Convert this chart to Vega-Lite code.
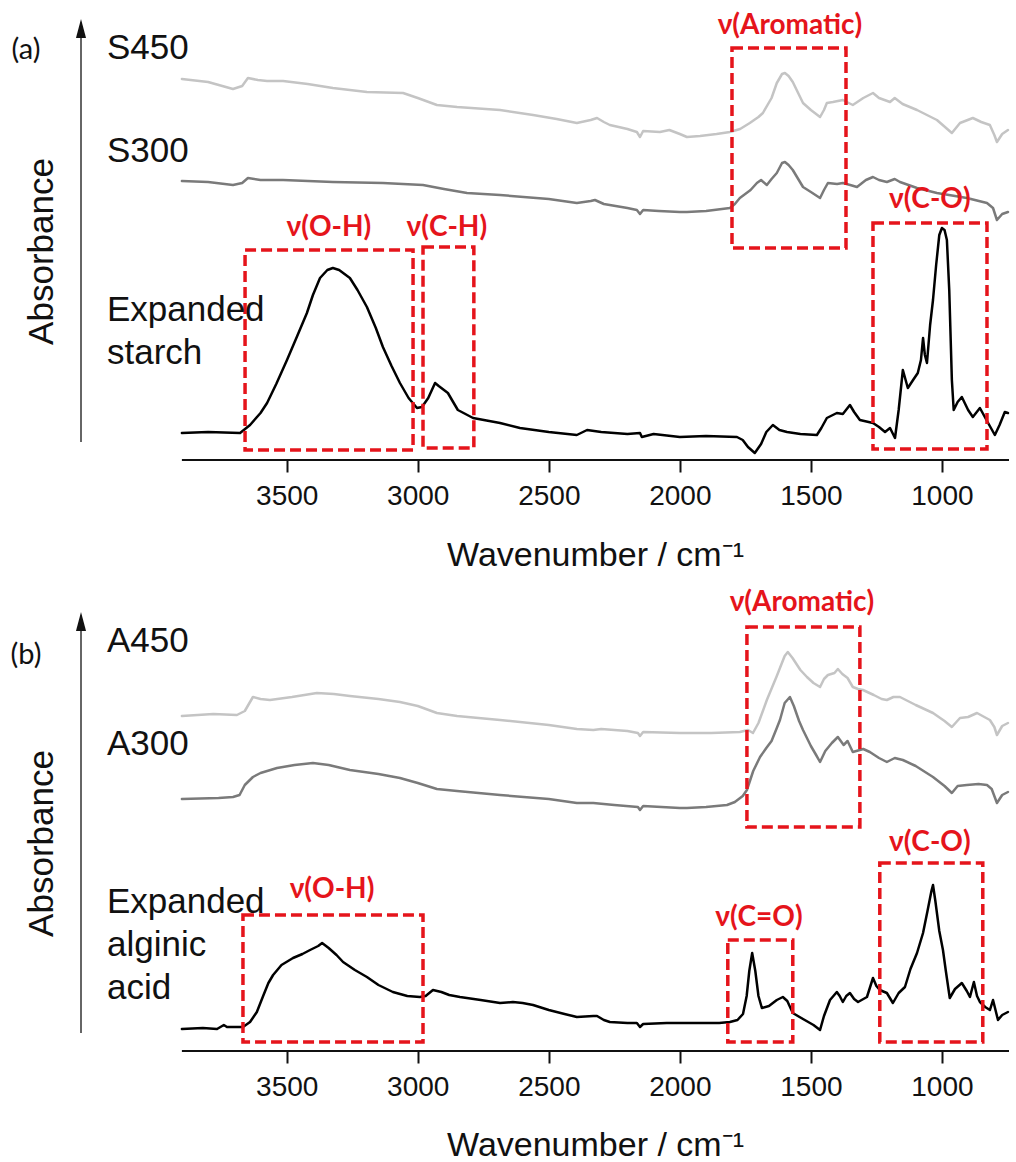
{
  "$schema": "https://vega.github.io/schema/vega-lite/v6.json",
  "width": 928,
  "height": 1031,
  "autosize": {"type": "none"},
  "padding": {"left": 81, "top": 20, "right": 7, "bottom": 111},
  "background": "white",
  "config": {"view": {"stroke": null}, "axis": {"grid": false}},
  "datasets": {
    "spectra": [
      {"panel":"a","series":"S450","wn":3900,"abs":381},{"panel":"a","series":"S450","wn":3800,"abs":378},{"panel":"a","series":"S450","wn":3705,"abs":371},{"panel":"a","series":"S450","wn":3670,"abs":374},{"panel":"a","series":"S450","wn":3648,"abs":382},{"panel":"a","series":"S450","wn":3610,"abs":380},{"panel":"a","series":"S450","wn":3575,"abs":379},{"panel":"a","series":"S450","wn":3514,"abs":379},{"panel":"a","series":"S450","wn":3420,"abs":376},{"panel":"a","series":"S450","wn":3324,"abs":372},{"panel":"a","series":"S450","wn":3194,"abs":368},{"panel":"a","series":"S450","wn":3056,"abs":367},{"panel":"a","series":"S450","wn":3000,"abs":362},{"panel":"a","series":"S450","wn":2927,"abs":355},{"panel":"a","series":"S450","wn":2850,"abs":353},{"panel":"a","series":"S450","wn":2686,"abs":350},{"panel":"a","series":"S450","wn":2560,"abs":345},{"panel":"a","series":"S450","wn":2470,"abs":341},{"panel":"a","series":"S450","wn":2393,"abs":337},{"panel":"a","series":"S450","wn":2340,"abs":340},{"panel":"a","series":"S450","wn":2316,"abs":342},{"panel":"a","series":"S450","wn":2290,"abs":338},{"panel":"a","series":"S450","wn":2267,"abs":335},{"panel":"a","series":"S450","wn":2200,"abs":331},{"panel":"a","series":"S450","wn":2164,"abs":328},{"panel":"a","series":"S450","wn":2152,"abs":323},{"panel":"a","series":"S450","wn":2140,"abs":329},{"panel":"a","series":"S450","wn":2076,"abs":328},{"panel":"a","series":"S450","wn":2040,"abs":330},{"panel":"a","series":"S450","wn":2000,"abs":326},{"panel":"a","series":"S450","wn":1973,"abs":323},{"panel":"a","series":"S450","wn":1923,"abs":324},{"panel":"a","series":"S450","wn":1860,"abs":326},{"panel":"a","series":"S450","wn":1809,"abs":328},{"panel":"a","series":"S450","wn":1770,"abs":331},{"panel":"a","series":"S450","wn":1733,"abs":337},{"panel":"a","series":"S450","wn":1700,"abs":343},{"panel":"a","series":"S450","wn":1683,"abs":347},{"panel":"a","series":"S450","wn":1650,"abs":362},{"panel":"a","series":"S450","wn":1630,"abs":377},{"panel":"a","series":"S450","wn":1610,"abs":386},{"panel":"a","series":"S450","wn":1599,"abs":387},{"panel":"a","series":"S450","wn":1585,"abs":384},{"panel":"a","series":"S450","wn":1569,"abs":378},{"panel":"a","series":"S450","wn":1530,"abs":357},{"panel":"a","series":"S450","wn":1500,"abs":350},{"panel":"a","series":"S450","wn":1465,"abs":343},{"panel":"a","series":"S450","wn":1450,"abs":350},{"panel":"a","series":"S450","wn":1439,"abs":357},{"panel":"a","series":"S450","wn":1416,"abs":358},{"panel":"a","series":"S450","wn":1378,"abs":360},{"panel":"a","series":"S450","wn":1340,"abs":355},{"panel":"a","series":"S450","wn":1300,"abs":362},{"panel":"a","series":"S450","wn":1263,"abs":367},{"panel":"a","series":"S450","wn":1240,"abs":362},{"panel":"a","series":"S450","wn":1198,"abs":358},{"panel":"a","series":"S450","wn":1180,"abs":362},{"panel":"a","series":"S450","wn":1150,"abs":356},{"panel":"a","series":"S450","wn":1095,"abs":350},{"panel":"a","series":"S450","wn":1019,"abs":340},{"panel":"a","series":"S450","wn":962,"abs":327},{"panel":"a","series":"S450","wn":931,"abs":337},{"panel":"a","series":"S450","wn":882,"abs":342},{"panel":"a","series":"S450","wn":850,"abs":338},{"panel":"a","series":"S450","wn":817,"abs":335},{"panel":"a","series":"S450","wn":800,"abs":325},{"panel":"a","series":"S450","wn":790,"abs":318},{"panel":"a","series":"S450","wn":770,"abs":326},{"panel":"a","series":"S450","wn":748,"abs":330},
      {"panel":"a","series":"S300","wn":3900,"abs":279},{"panel":"a","series":"S300","wn":3800,"abs":278},{"panel":"a","series":"S300","wn":3705,"abs":275},{"panel":"a","series":"S300","wn":3670,"abs":277},{"panel":"a","series":"S300","wn":3648,"abs":282},{"panel":"a","series":"S300","wn":3600,"abs":280},{"panel":"a","series":"S300","wn":3514,"abs":280},{"panel":"a","series":"S300","wn":3324,"abs":278},{"panel":"a","series":"S300","wn":3133,"abs":277},{"panel":"a","series":"S300","wn":2980,"abs":275},{"panel":"a","series":"S300","wn":2900,"abs":271},{"panel":"a","series":"S300","wn":2812,"abs":267},{"panel":"a","series":"S300","wn":2686,"abs":265},{"panel":"a","series":"S300","wn":2500,"abs":261},{"panel":"a","series":"S300","wn":2393,"abs":257},{"panel":"a","series":"S300","wn":2340,"abs":259},{"panel":"a","series":"S300","wn":2324,"abs":260},{"panel":"a","series":"S300","wn":2290,"abs":256},{"panel":"a","series":"S300","wn":2200,"abs":252},{"panel":"a","series":"S300","wn":2164,"abs":250},{"panel":"a","series":"S300","wn":2152,"abs":246},{"panel":"a","series":"S300","wn":2140,"abs":250},{"panel":"a","series":"S300","wn":2080,"abs":249},{"panel":"a","series":"S300","wn":2000,"abs":248},{"panel":"a","series":"S300","wn":1973,"abs":248},{"panel":"a","series":"S300","wn":1900,"abs":249},{"panel":"a","series":"S300","wn":1809,"abs":252},{"panel":"a","series":"S300","wn":1790,"abs":256},{"panel":"a","series":"S300","wn":1771,"abs":262},{"panel":"a","series":"S300","wn":1730,"abs":270},{"panel":"a","series":"S300","wn":1706,"abs":277},{"panel":"a","series":"S300","wn":1690,"abs":280},{"panel":"a","series":"S300","wn":1668,"abs":275},{"panel":"a","series":"S300","wn":1650,"abs":281},{"panel":"a","series":"S300","wn":1630,"abs":287},{"panel":"a","series":"S300","wn":1610,"abs":297},{"panel":"a","series":"S300","wn":1599,"abs":298},{"panel":"a","series":"S300","wn":1585,"abs":295},{"panel":"a","series":"S300","wn":1569,"abs":290},{"panel":"a","series":"S300","wn":1530,"abs":273},{"panel":"a","series":"S300","wn":1500,"abs":268},{"panel":"a","series":"S300","wn":1465,"abs":262},{"panel":"a","series":"S300","wn":1450,"abs":270},{"panel":"a","series":"S300","wn":1435,"abs":277},{"panel":"a","series":"S300","wn":1400,"abs":276},{"panel":"a","series":"S300","wn":1378,"abs":277},{"panel":"a","series":"S300","wn":1350,"abs":275},{"panel":"a","series":"S300","wn":1324,"abs":273},{"panel":"a","series":"S300","wn":1290,"abs":280},{"panel":"a","series":"S300","wn":1263,"abs":283},{"panel":"a","series":"S300","wn":1240,"abs":280},{"panel":"a","series":"S300","wn":1210,"abs":278},{"panel":"a","series":"S300","wn":1180,"abs":281},{"panel":"a","series":"S300","wn":1160,"abs":278},{"panel":"a","series":"S300","wn":1095,"abs":272},{"panel":"a","series":"S300","wn":1019,"abs":267},{"panel":"a","series":"S300","wn":950,"abs":264},{"panel":"a","series":"S300","wn":905,"abs":262},{"panel":"a","series":"S300","wn":828,"abs":257},{"panel":"a","series":"S300","wn":805,"abs":252},{"panel":"a","series":"S300","wn":790,"abs":240},{"panel":"a","series":"S300","wn":770,"abs":246},{"panel":"a","series":"S300","wn":748,"abs":248},
      {"panel":"a","series":"Expanded starch","wn":3900,"abs":27},{"panel":"a","series":"Expanded starch","wn":3800,"abs":28},{"panel":"a","series":"Expanded starch","wn":3678,"abs":27},{"panel":"a","series":"Expanded starch","wn":3640,"abs":35},{"panel":"a","series":"Expanded starch","wn":3600,"abs":47},{"panel":"a","series":"Expanded starch","wn":3575,"abs":57},{"panel":"a","series":"Expanded starch","wn":3540,"abs":76},{"panel":"a","series":"Expanded starch","wn":3499,"abs":100},{"panel":"a","series":"Expanded starch","wn":3460,"abs":124},{"panel":"a","series":"Expanded starch","wn":3423,"abs":147},{"panel":"a","series":"Expanded starch","wn":3400,"abs":165},{"panel":"a","series":"Expanded starch","wn":3373,"abs":182},{"panel":"a","series":"Expanded starch","wn":3345,"abs":190},{"panel":"a","series":"Expanded starch","wn":3324,"abs":192},{"panel":"a","series":"Expanded starch","wn":3300,"abs":190},{"panel":"a","series":"Expanded starch","wn":3259,"abs":182},{"panel":"a","series":"Expanded starch","wn":3230,"abs":170},{"panel":"a","series":"Expanded starch","wn":3194,"abs":153},{"panel":"a","series":"Expanded starch","wn":3160,"abs":132},{"panel":"a","series":"Expanded starch","wn":3133,"abs":113},{"panel":"a","series":"Expanded starch","wn":3100,"abs":94},{"panel":"a","series":"Expanded starch","wn":3068,"abs":77},{"panel":"a","series":"Expanded starch","wn":3035,"abs":62},{"panel":"a","series":"Expanded starch","wn":3003,"abs":52},{"panel":"a","series":"Expanded starch","wn":2984,"abs":53},{"panel":"a","series":"Expanded starch","wn":2960,"abs":62},{"panel":"a","series":"Expanded starch","wn":2934,"abs":77},{"panel":"a","series":"Expanded starch","wn":2920,"abs":74},{"panel":"a","series":"Expanded starch","wn":2900,"abs":70},{"panel":"a","series":"Expanded starch","wn":2885,"abs":67},{"panel":"a","series":"Expanded starch","wn":2865,"abs":58},{"panel":"a","series":"Expanded starch","wn":2847,"abs":50},{"panel":"a","series":"Expanded starch","wn":2789,"abs":42},{"panel":"a","series":"Expanded starch","wn":2686,"abs":37},{"panel":"a","series":"Expanded starch","wn":2610,"abs":32},{"panel":"a","series":"Expanded starch","wn":2500,"abs":28},{"panel":"a","series":"Expanded starch","wn":2393,"abs":25},{"panel":"a","series":"Expanded starch","wn":2354,"abs":30},{"panel":"a","series":"Expanded starch","wn":2300,"abs":28},{"panel":"a","series":"Expanded starch","wn":2200,"abs":26},{"panel":"a","series":"Expanded starch","wn":2152,"abs":27},{"panel":"a","series":"Expanded starch","wn":2145,"abs":23},{"panel":"a","series":"Expanded starch","wn":2100,"abs":26},{"panel":"a","series":"Expanded starch","wn":2000,"abs":23},{"panel":"a","series":"Expanded starch","wn":1900,"abs":24},{"panel":"a","series":"Expanded starch","wn":1782,"abs":23},{"panel":"a","series":"Expanded starch","wn":1760,"abs":20},{"panel":"a","series":"Expanded starch","wn":1740,"abs":13},{"panel":"a","series":"Expanded starch","wn":1714,"abs":7},{"panel":"a","series":"Expanded starch","wn":1690,"abs":16},{"panel":"a","series":"Expanded starch","wn":1670,"abs":28},{"panel":"a","series":"Expanded starch","wn":1645,"abs":35},{"panel":"a","series":"Expanded starch","wn":1620,"abs":30},{"panel":"a","series":"Expanded starch","wn":1591,"abs":28},{"panel":"a","series":"Expanded starch","wn":1540,"abs":26},{"panel":"a","series":"Expanded starch","wn":1477,"abs":25},{"panel":"a","series":"Expanded starch","wn":1460,"abs":32},{"panel":"a","series":"Expanded starch","wn":1439,"abs":42},{"panel":"a","series":"Expanded starch","wn":1401,"abs":47},{"panel":"a","series":"Expanded starch","wn":1378,"abs":46},{"panel":"a","series":"Expanded starch","wn":1360,"abs":52},{"panel":"a","series":"Expanded starch","wn":1351,"abs":55},{"panel":"a","series":"Expanded starch","wn":1335,"abs":48},{"panel":"a","series":"Expanded starch","wn":1313,"abs":40},{"panel":"a","series":"Expanded starch","wn":1263,"abs":37},{"panel":"a","series":"Expanded starch","wn":1240,"abs":33},{"panel":"a","series":"Expanded starch","wn":1217,"abs":28},{"panel":"a","series":"Expanded starch","wn":1198,"abs":32},{"panel":"a","series":"Expanded starch","wn":1179,"abs":22},{"panel":"a","series":"Expanded starch","wn":1165,"abs":50},{"panel":"a","series":"Expanded starch","wn":1149,"abs":90},{"panel":"a","series":"Expanded starch","wn":1130,"abs":72},{"panel":"a","series":"Expanded starch","wn":1110,"abs":80},{"panel":"a","series":"Expanded starch","wn":1092,"abs":87},{"panel":"a","series":"Expanded starch","wn":1080,"abs":100},{"panel":"a","series":"Expanded starch","wn":1072,"abs":122},{"panel":"a","series":"Expanded starch","wn":1065,"abs":105},{"panel":"a","series":"Expanded starch","wn":1057,"abs":97},{"panel":"a","series":"Expanded starch","wn":1045,"abs":135},{"panel":"a","series":"Expanded starch","wn":1034,"abs":160},{"panel":"a","series":"Expanded starch","wn":1022,"abs":195},{"panel":"a","series":"Expanded starch","wn":1010,"abs":225},{"panel":"a","series":"Expanded starch","wn":1000,"abs":232},{"panel":"a","series":"Expanded starch","wn":990,"abs":230},{"panel":"a","series":"Expanded starch","wn":981,"abs":220},{"panel":"a","series":"Expanded starch","wn":972,"abs":170},{"panel":"a","series":"Expanded starch","wn":962,"abs":80},{"panel":"a","series":"Expanded starch","wn":955,"abs":50},{"panel":"a","series":"Expanded starch","wn":940,"abs":58},{"panel":"a","series":"Expanded starch","wn":924,"abs":63},{"panel":"a","series":"Expanded starch","wn":900,"abs":50},{"panel":"a","series":"Expanded starch","wn":882,"abs":43},{"panel":"a","series":"Expanded starch","wn":855,"abs":52},{"panel":"a","series":"Expanded starch","wn":830,"abs":40},{"panel":"a","series":"Expanded starch","wn":798,"abs":25},{"panel":"a","series":"Expanded starch","wn":780,"abs":35},{"panel":"a","series":"Expanded starch","wn":760,"abs":48},{"panel":"a","series":"Expanded starch","wn":748,"abs":47},
      {"panel":"b","series":"A450","wn":3900,"abs":335},{"panel":"b","series":"A450","wn":3780,"abs":337},{"panel":"b","series":"A450","wn":3690,"abs":336},{"panel":"b","series":"A450","wn":3660,"abs":340},{"panel":"b","series":"A450","wn":3629,"abs":354},{"panel":"b","series":"A450","wn":3600,"abs":352},{"panel":"b","series":"A450","wn":3564,"abs":351},{"panel":"b","series":"A450","wn":3480,"abs":354},{"panel":"b","series":"A450","wn":3385,"abs":358},{"panel":"b","series":"A450","wn":3320,"abs":357},{"panel":"b","series":"A450","wn":3259,"abs":355},{"panel":"b","series":"A450","wn":3150,"abs":352},{"panel":"b","series":"A450","wn":3068,"abs":349},{"panel":"b","series":"A450","wn":3000,"abs":345},{"panel":"b","series":"A450","wn":2927,"abs":338},{"panel":"b","series":"A450","wn":2850,"abs":335},{"panel":"b","series":"A450","wn":2686,"abs":331},{"panel":"b","series":"A450","wn":2500,"abs":326},{"panel":"b","series":"A450","wn":2393,"abs":322},{"panel":"b","series":"A450","wn":2330,"abs":321},{"panel":"b","series":"A450","wn":2300,"abs":322},{"panel":"b","series":"A450","wn":2200,"abs":320},{"panel":"b","series":"A450","wn":2160,"abs":318},{"panel":"b","series":"A450","wn":2152,"abs":315},{"panel":"b","series":"A450","wn":2140,"abs":319},{"panel":"b","series":"A450","wn":2000,"abs":318},{"panel":"b","series":"A450","wn":1973,"abs":318},{"panel":"b","series":"A450","wn":1880,"abs":318},{"panel":"b","series":"A450","wn":1771,"abs":319},{"panel":"b","series":"A450","wn":1740,"abs":321},{"panel":"b","series":"A450","wn":1721,"abs":318},{"panel":"b","series":"A450","wn":1700,"abs":328},{"panel":"b","series":"A450","wn":1668,"abs":351},{"panel":"b","series":"A450","wn":1630,"abs":375},{"panel":"b","series":"A450","wn":1600,"abs":395},{"panel":"b","series":"A450","wn":1588,"abs":399},{"panel":"b","series":"A450","wn":1570,"abs":393},{"panel":"b","series":"A450","wn":1540,"abs":381},{"panel":"b","series":"A450","wn":1515,"abs":374},{"panel":"b","series":"A450","wn":1490,"abs":368},{"panel":"b","series":"A450","wn":1465,"abs":364},{"panel":"b","series":"A450","wn":1450,"abs":372},{"panel":"b","series":"A450","wn":1435,"abs":376},{"panel":"b","series":"A450","wn":1410,"abs":378},{"panel":"b","series":"A450","wn":1397,"abs":382},{"panel":"b","series":"A450","wn":1380,"abs":377},{"panel":"b","series":"A450","wn":1360,"abs":373},{"panel":"b","series":"A450","wn":1340,"abs":364},{"panel":"b","series":"A450","wn":1320,"abs":362},{"panel":"b","series":"A450","wn":1301,"abs":361},{"panel":"b","series":"A450","wn":1260,"abs":356},{"panel":"b","series":"A450","wn":1230,"abs":352},{"panel":"b","series":"A450","wn":1210,"abs":351},{"panel":"b","series":"A450","wn":1185,"abs":354},{"panel":"b","series":"A450","wn":1160,"abs":354},{"panel":"b","series":"A450","wn":1100,"abs":346},{"panel":"b","series":"A450","wn":1034,"abs":338},{"panel":"b","series":"A450","wn":990,"abs":330},{"panel":"b","series":"A450","wn":962,"abs":324},{"panel":"b","series":"A450","wn":931,"abs":333},{"panel":"b","series":"A450","wn":900,"abs":334},{"panel":"b","series":"A450","wn":866,"abs":338},{"panel":"b","series":"A450","wn":817,"abs":331},{"panel":"b","series":"A450","wn":800,"abs":324},{"panel":"b","series":"A450","wn":790,"abs":316},{"panel":"b","series":"A450","wn":770,"abs":325},{"panel":"b","series":"A450","wn":748,"abs":328},
      {"panel":"b","series":"A300","wn":3900,"abs":252},{"panel":"b","series":"A300","wn":3760,"abs":253},{"panel":"b","series":"A300","wn":3705,"abs":254},{"panel":"b","series":"A300","wn":3680,"abs":256},{"panel":"b","series":"A300","wn":3660,"abs":266},{"panel":"b","series":"A300","wn":3629,"abs":274},{"panel":"b","series":"A300","wn":3600,"abs":278},{"panel":"b","series":"A300","wn":3537,"abs":283},{"panel":"b","series":"A300","wn":3470,"abs":286},{"panel":"b","series":"A300","wn":3400,"abs":288},{"panel":"b","series":"A300","wn":3340,"abs":286},{"panel":"b","series":"A300","wn":3259,"abs":281},{"panel":"b","series":"A300","wn":3150,"abs":277},{"panel":"b","series":"A300","wn":3068,"abs":273},{"panel":"b","series":"A300","wn":3000,"abs":268},{"panel":"b","series":"A300","wn":2927,"abs":262},{"panel":"b","series":"A300","wn":2850,"abs":260},{"panel":"b","series":"A300","wn":2686,"abs":256},{"panel":"b","series":"A300","wn":2500,"abs":252},{"panel":"b","series":"A300","wn":2393,"abs":248},{"panel":"b","series":"A300","wn":2330,"abs":248},{"panel":"b","series":"A300","wn":2250,"abs":246},{"panel":"b","series":"A300","wn":2160,"abs":244},{"panel":"b","series":"A300","wn":2152,"abs":241},{"panel":"b","series":"A300","wn":2140,"abs":245},{"panel":"b","series":"A300","wn":2000,"abs":243},{"panel":"b","series":"A300","wn":1973,"abs":243},{"panel":"b","series":"A300","wn":1900,"abs":244},{"panel":"b","series":"A300","wn":1820,"abs":246},{"panel":"b","series":"A300","wn":1790,"abs":249},{"panel":"b","series":"A300","wn":1760,"abs":255},{"panel":"b","series":"A300","wn":1744,"abs":261},{"panel":"b","series":"A300","wn":1720,"abs":280},{"panel":"b","series":"A300","wn":1694,"abs":294},{"panel":"b","series":"A300","wn":1670,"abs":303},{"panel":"b","series":"A300","wn":1650,"abs":310},{"panel":"b","series":"A300","wn":1630,"abs":323},{"panel":"b","series":"A300","wn":1618,"abs":331},{"panel":"b","series":"A300","wn":1600,"abs":348},{"panel":"b","series":"A300","wn":1580,"abs":354},{"panel":"b","series":"A300","wn":1565,"abs":345},{"panel":"b","series":"A300","wn":1545,"abs":330},{"panel":"b","series":"A300","wn":1530,"abs":321},{"panel":"b","series":"A300","wn":1500,"abs":305},{"panel":"b","series":"A300","wn":1480,"abs":296},{"panel":"b","series":"A300","wn":1465,"abs":289},{"panel":"b","series":"A300","wn":1445,"abs":300},{"panel":"b","series":"A300","wn":1420,"abs":308},{"panel":"b","series":"A300","wn":1397,"abs":314},{"panel":"b","series":"A300","wn":1375,"abs":306},{"panel":"b","series":"A300","wn":1360,"abs":310},{"panel":"b","series":"A300","wn":1340,"abs":299},{"panel":"b","series":"A300","wn":1300,"abs":302},{"panel":"b","series":"A300","wn":1275,"abs":299},{"panel":"b","series":"A300","wn":1240,"abs":293},{"panel":"b","series":"A300","wn":1210,"abs":289},{"panel":"b","series":"A300","wn":1180,"abs":293},{"panel":"b","series":"A300","wn":1149,"abs":291},{"panel":"b","series":"A300","wn":1100,"abs":285},{"panel":"b","series":"A300","wn":1034,"abs":274},{"panel":"b","series":"A300","wn":990,"abs":265},{"panel":"b","series":"A300","wn":962,"abs":258},{"panel":"b","series":"A300","wn":940,"abs":265},{"panel":"b","series":"A300","wn":905,"abs":266},{"panel":"b","series":"A300","wn":860,"abs":267},{"panel":"b","series":"A300","wn":828,"abs":266},{"panel":"b","series":"A300","wn":810,"abs":262},{"panel":"b","series":"A300","wn":790,"abs":248},{"panel":"b","series":"A300","wn":770,"abs":256},{"panel":"b","series":"A300","wn":748,"abs":259},
      {"panel":"b","series":"Expanded alginic acid","wn":3900,"abs":22},{"panel":"b","series":"Expanded alginic acid","wn":3820,"abs":23},{"panel":"b","series":"Expanded alginic acid","wn":3766,"abs":22},{"panel":"b","series":"Expanded alginic acid","wn":3740,"abs":26},{"panel":"b","series":"Expanded alginic acid","wn":3728,"abs":24},{"panel":"b","series":"Expanded alginic acid","wn":3667,"abs":24},{"panel":"b","series":"Expanded alginic acid","wn":3640,"abs":29},{"panel":"b","series":"Expanded alginic acid","wn":3614,"abs":39},{"panel":"b","series":"Expanded alginic acid","wn":3590,"abs":55},{"panel":"b","series":"Expanded alginic acid","wn":3570,"abs":68},{"panel":"b","series":"Expanded alginic acid","wn":3552,"abs":76},{"panel":"b","series":"Expanded alginic acid","wn":3520,"abs":86},{"panel":"b","series":"Expanded alginic acid","wn":3476,"abs":93},{"panel":"b","series":"Expanded alginic acid","wn":3440,"abs":97},{"panel":"b","series":"Expanded alginic acid","wn":3411,"abs":101},{"panel":"b","series":"Expanded alginic acid","wn":3380,"abs":105},{"panel":"b","series":"Expanded alginic acid","wn":3365,"abs":108},{"panel":"b","series":"Expanded alginic acid","wn":3340,"abs":103},{"panel":"b","series":"Expanded alginic acid","wn":3310,"abs":96},{"panel":"b","series":"Expanded alginic acid","wn":3285,"abs":89},{"panel":"b","series":"Expanded alginic acid","wn":3240,"abs":81},{"panel":"b","series":"Expanded alginic acid","wn":3194,"abs":74},{"panel":"b","series":"Expanded alginic acid","wn":3150,"abs":66},{"panel":"b","series":"Expanded alginic acid","wn":3095,"abs":59},{"panel":"b","series":"Expanded alginic acid","wn":3040,"abs":55},{"panel":"b","series":"Expanded alginic acid","wn":2992,"abs":54},{"panel":"b","series":"Expanded alginic acid","wn":2970,"abs":55},{"panel":"b","series":"Expanded alginic acid","wn":2942,"abs":61},{"panel":"b","series":"Expanded alginic acid","wn":2910,"abs":59},{"panel":"b","series":"Expanded alginic acid","wn":2880,"abs":56},{"panel":"b","series":"Expanded alginic acid","wn":2839,"abs":54},{"panel":"b","series":"Expanded alginic acid","wn":2760,"abs":51},{"panel":"b","series":"Expanded alginic acid","wn":2686,"abs":48},{"panel":"b","series":"Expanded alginic acid","wn":2637,"abs":49},{"panel":"b","series":"Expanded alginic acid","wn":2600,"abs":48},{"panel":"b","series":"Expanded alginic acid","wn":2560,"abs":46},{"panel":"b","series":"Expanded alginic acid","wn":2500,"abs":41},{"panel":"b","series":"Expanded alginic acid","wn":2440,"abs":37},{"panel":"b","series":"Expanded alginic acid","wn":2393,"abs":34},{"panel":"b","series":"Expanded alginic acid","wn":2330,"abs":35},{"panel":"b","series":"Expanded alginic acid","wn":2316,"abs":35},{"panel":"b","series":"Expanded alginic acid","wn":2290,"abs":31},{"panel":"b","series":"Expanded alginic acid","wn":2267,"abs":29},{"panel":"b","series":"Expanded alginic acid","wn":2200,"abs":28},{"panel":"b","series":"Expanded alginic acid","wn":2164,"abs":28},{"panel":"b","series":"Expanded alginic acid","wn":2152,"abs":24},{"panel":"b","series":"Expanded alginic acid","wn":2140,"abs":27},{"panel":"b","series":"Expanded alginic acid","wn":2050,"abs":28},{"panel":"b","series":"Expanded alginic acid","wn":1973,"abs":28},{"panel":"b","series":"Expanded alginic acid","wn":1850,"abs":28},{"panel":"b","series":"Expanded alginic acid","wn":1809,"abs":29},{"panel":"b","series":"Expanded alginic acid","wn":1780,"abs":31},{"panel":"b","series":"Expanded alginic acid","wn":1759,"abs":37},{"panel":"b","series":"Expanded alginic acid","wn":1745,"abs":55},{"panel":"b","series":"Expanded alginic acid","wn":1735,"abs":80},{"panel":"b","series":"Expanded alginic acid","wn":1724,"abs":98},{"panel":"b","series":"Expanded alginic acid","wn":1712,"abs":80},{"panel":"b","series":"Expanded alginic acid","wn":1700,"abs":55},{"panel":"b","series":"Expanded alginic acid","wn":1687,"abs":43},{"panel":"b","series":"Expanded alginic acid","wn":1660,"abs":45},{"panel":"b","series":"Expanded alginic acid","wn":1630,"abs":51},{"panel":"b","series":"Expanded alginic acid","wn":1607,"abs":54},{"panel":"b","series":"Expanded alginic acid","wn":1590,"abs":50},{"panel":"b","series":"Expanded alginic acid","wn":1569,"abs":38},{"panel":"b","series":"Expanded alginic acid","wn":1530,"abs":32},{"panel":"b","series":"Expanded alginic acid","wn":1490,"abs":26},{"panel":"b","series":"Expanded alginic acid","wn":1465,"abs":21},{"panel":"b","series":"Expanded alginic acid","wn":1450,"abs":35},{"panel":"b","series":"Expanded alginic acid","wn":1427,"abs":51},{"panel":"b","series":"Expanded alginic acid","wn":1401,"abs":59},{"panel":"b","series":"Expanded alginic acid","wn":1390,"abs":55},{"panel":"b","series":"Expanded alginic acid","wn":1378,"abs":49},{"panel":"b","series":"Expanded alginic acid","wn":1365,"abs":55},{"panel":"b","series":"Expanded alginic acid","wn":1351,"abs":58},{"panel":"b","series":"Expanded alginic acid","wn":1335,"abs":52},{"panel":"b","series":"Expanded alginic acid","wn":1320,"abs":49},{"panel":"b","series":"Expanded alginic acid","wn":1286,"abs":54},{"panel":"b","series":"Expanded alginic acid","wn":1263,"abs":73},{"panel":"b","series":"Expanded alginic acid","wn":1250,"abs":65},{"panel":"b","series":"Expanded alginic acid","wn":1237,"abs":61},{"panel":"b","series":"Expanded alginic acid","wn":1210,"abs":58},{"panel":"b","series":"Expanded alginic acid","wn":1187,"abs":48},{"panel":"b","series":"Expanded alginic acid","wn":1165,"abs":58},{"panel":"b","series":"Expanded alginic acid","wn":1141,"abs":64},{"panel":"b","series":"Expanded alginic acid","wn":1120,"abs":82},{"panel":"b","series":"Expanded alginic acid","wn":1095,"abs":98},{"panel":"b","series":"Expanded alginic acid","wn":1072,"abs":118},{"panel":"b","series":"Expanded alginic acid","wn":1055,"abs":140},{"panel":"b","series":"Expanded alginic acid","wn":1040,"abs":160},{"panel":"b","series":"Expanded alginic acid","wn":1034,"abs":166},{"panel":"b","series":"Expanded alginic acid","wn":1025,"abs":150},{"panel":"b","series":"Expanded alginic acid","wn":1010,"abs":120},{"panel":"b","series":"Expanded alginic acid","wn":996,"abs":101},{"panel":"b","series":"Expanded alginic acid","wn":985,"abs":80},{"panel":"b","series":"Expanded alginic acid","wn":970,"abs":53},{"panel":"b","series":"Expanded alginic acid","wn":950,"abs":62},{"panel":"b","series":"Expanded alginic acid","wn":924,"abs":68},{"panel":"b","series":"Expanded alginic acid","wn":905,"abs":60},{"panel":"b","series":"Expanded alginic acid","wn":893,"abs":54},{"panel":"b","series":"Expanded alginic acid","wn":878,"abs":69},{"panel":"b","series":"Expanded alginic acid","wn":866,"abs":55},{"panel":"b","series":"Expanded alginic acid","wn":855,"abs":49},{"panel":"b","series":"Expanded alginic acid","wn":835,"abs":44},{"panel":"b","series":"Expanded alginic acid","wn":817,"abs":41},{"panel":"b","series":"Expanded alginic acid","wn":805,"abs":51},{"panel":"b","series":"Expanded alginic acid","wn":786,"abs":31},{"panel":"b","series":"Expanded alginic acid","wn":770,"abs":36},{"panel":"b","series":"Expanded alginic acid","wn":748,"abs":39}
    ],
    "boxes": [
      {"panel":"a","label":"ν(O-H)","from":3659,"to":3018,"low":10,"high":210,"labelWn":3339,"labelAbs":232},
      {"panel":"a","label":"ν(C-H)","from":2980,"to":2786,"low":12,"high":213,"labelWn":2889,"labelAbs":232},
      {"panel":"a","label":"ν(Aromatic)","from":1801,"to":1366,"low":212,"high":412,"labelWn":1580,"labelAbs":434},
      {"panel":"a","label":"ν(C-O)","from":1263,"to":828,"low":11,"high":237,"labelWn":1046,"labelAbs":260},
      {"panel":"b","label":"ν(O-H)","from":3667,"to":2980,"low":9,"high":136,"labelWn":3327,"labelAbs":161},
      {"panel":"b","label":"ν(C=O)","from":1817,"to":1569,"low":9,"high":111,"labelWn":1698,"labelAbs":133},
      {"panel":"b","label":"ν(C-O)","from":1237,"to":844,"low":9,"high":188,"labelWn":1046,"labelAbs":208},
      {"panel":"b","label":"ν(Aromatic)","from":1744,"to":1313,"low":224,"high":424,"labelWn":1534,"labelAbs":448}
    ],
    "names": [
      {"panel":"a","name":"S450","wn":4186,"abs":412},
      {"panel":"a","name":"S300","wn":4186,"abs":309},
      {"panel":"a","name":"Expanded\nstarch","wn":4186,"abs":150},
      {"panel":"b","name":"A450","wn":4186,"abs":410},
      {"panel":"b","name":"A300","wn":4186,"abs":307},
      {"panel":"b","name":"Expanded\nalginic\nacid","wn":4186,"abs":149}
    ],
    "tags": [
      {"panel":"a","tag":"(a)","wn":4495,"abs":410},
      {"panel":"b","tag":"(b)","wn":4495,"abs":396}
    ],
    "frames": [
      {"panel":"a","start":3900,"end":744,"base":0,"axisWn":4285,"lowEnd":18,"highEnd":428,"tip":431.5},
      {"panel":"b","start":3900,"end":744,"base":0,"axisWn":4285,"lowEnd":18,"highEnd":424,"tip":429.5}
    ]
  },
  "resolve": {"scale": {"y": "independent"}, "axis": {"x": "independent", "y": "independent"}},
  "layer": [
    {
      "layer": [
        {
          "data": {"name": "spectra"},
          "transform": [{"filter": "datum.panel === 'a'"}],
          "mark": {"type": "line", "strokeJoin": "round", "strokeCap": "round"},
          "encoding": {
            "x": {"field": "wn", "type": "quantitative",
              "scale": {"domain": [744, 4285], "reverse": true, "nice": false, "zero": false},
              "axis": {"orient": "bottom", "offset": -591, "values": [3500, 3000, 2500, 2000, 1500, 1000], "format": "d",
                "domain": false, "grid": false, "ticks": true, "labels": true, "tickSize": 12, "tickWidth": 2, "tickColor": "#111111",
                "labelFont": "Liberation Sans", "labelFontSize": 28, "labelColor": "#111111", "labelBaseline": "alphabetic", "labelPadding": 32,
                "labelFlush": false, "labelOverlap": false,
                "title": "Wavenumber / cm⁻¹", "titleFont": "Liberation Sans", "titleFontSize": 34, "titleFontWeight": "normal",
                "titleColor": "#111111", "titleBaseline": "alphabetic", "titleAlign": "center", "titleX": 514, "titleY": 105}},
            "y": {"field": "abs", "type": "quantitative",
              "scale": {"domain": [-591, 440], "nice": false, "zero": false},
              "axis": {"orient": "left", "domain": false, "ticks": false, "labels": false, "grid": false,
                "title": "Absorbance", "titleFont": "Liberation Sans", "titleFontSize": 35, "titleFontWeight": "normal",
                "titleColor": "#111111", "titleAngle": 270, "titleBaseline": "alphabetic", "titleAlign": "center", "titleX": -29, "titleY": 231}},
            "color": {"field": "series", "type": "nominal", "legend": null,
              "scale": {"domain": ["S450", "S300", "Expanded starch", "A450", "A300", "Expanded alginic acid"],
                "range": ["#c4c4c4", "#7a7a7a", "#000000", "#c4c4c4", "#7a7a7a", "#000000"]}},
            "strokeWidth": {"field": "series", "type": "nominal", "legend": null,
              "scale": {"domain": ["S450", "S300", "Expanded starch", "A450", "A300", "Expanded alginic acid"],
                "range": [2.5, 2.5, 3, 2.5, 2.5, 3]}}
          }
        },
        {
          "data": {"name": "frames"},
          "transform": [{"filter": "datum.panel === 'a'"}],
          "mark": {"type": "rule", "color": "#111111", "strokeWidth": 2},
          "encoding": {
            "x": {"field": "start", "type": "quantitative"},
            "x2": {"field": "end"},
            "y": {"field": "base", "type": "quantitative"}
          }
        },
        {
          "data": {"name": "frames"},
          "transform": [{"filter": "datum.panel === 'a'"}],
          "mark": {"type": "rule", "color": "#333333", "strokeWidth": 1.5},
          "encoding": {
            "x": {"field": "axisWn", "type": "quantitative"},
            "y": {"field": "lowEnd", "type": "quantitative"},
            "y2": {"field": "highEnd"}
          }
        },
        {
          "data": {"name": "frames"},
          "transform": [{"filter": "datum.panel === 'a'"}],
          "mark": {"type": "point", "shape": "M0,-1L0.53,1L-0.53,1Z", "size": 361, "filled": true, "color": "#111111", "opacity": 1},
          "encoding": {
            "x": {"field": "axisWn", "type": "quantitative"},
            "y": {"field": "tip", "type": "quantitative"}
          }
        },
        {
          "data": {"name": "boxes"},
          "transform": [{"filter": "datum.panel === 'a'"}],
          "mark": {"type": "rect", "fillOpacity": 0, "stroke": "#e5141b", "strokeWidth": 3.5, "strokeDash": [11, 5]},
          "encoding": {
            "x": {"field": "from", "type": "quantitative"},
            "x2": {"field": "to"},
            "y": {"field": "low", "type": "quantitative"},
            "y2": {"field": "high"}
          }
        },
        {
          "data": {"name": "boxes"},
          "transform": [{"filter": "datum.panel === 'a'"}],
          "mark": {"type": "text", "font": "Lato", "fontWeight": "bold", "fontSize": 28, "color": "#e5141b", "align": "center", "baseline": "middle"},
          "encoding": {
            "x": {"field": "labelWn", "type": "quantitative"},
            "y": {"field": "labelAbs", "type": "quantitative"},
            "text": {"field": "label"}
          }
        },
        {
          "data": {"name": "names"},
          "transform": [{"filter": "datum.panel === 'a'"}],
          "mark": {"type": "text", "font": "Liberation Sans", "fontSize": 35, "color": "#111111", "align": "left", "baseline": "middle", "lineBreak": "\n", "lineHeight": 43},
          "encoding": {
            "x": {"field": "wn", "type": "quantitative"},
            "y": {"field": "abs", "type": "quantitative"},
            "text": {"field": "name"}
          }
        },
        {
          "data": {"name": "tags"},
          "transform": [{"filter": "datum.panel === 'a'"}],
          "mark": {"type": "text", "font": "Lato", "fontSize": 29, "color": "#111111", "align": "center", "baseline": "middle"},
          "encoding": {
            "x": {"field": "wn", "type": "quantitative"},
            "y": {"field": "abs", "type": "quantitative"},
            "text": {"field": "tag"}
          }
        }
      ]
    },
    {
      "layer": [
        {
          "data": {"name": "spectra"},
          "transform": [{"filter": "datum.panel === 'b'"}],
          "mark": {"type": "line", "strokeJoin": "round", "strokeCap": "round"},
          "encoding": {
            "x": {"field": "wn", "type": "quantitative",
              "scale": {"domain": [744, 4285], "reverse": true, "nice": false, "zero": false},
              "axis": {"orient": "bottom", "offset": 0, "values": [3500, 3000, 2500, 2000, 1500, 1000], "format": "d",
                "domain": false, "grid": false, "ticks": true, "labels": true, "tickSize": 12, "tickWidth": 2, "tickColor": "#111111",
                "labelFont": "Liberation Sans", "labelFontSize": 28, "labelColor": "#111111", "labelBaseline": "alphabetic", "labelPadding": 32,
                "labelFlush": false, "labelOverlap": false,
                "title": "Wavenumber / cm⁻¹", "titleFont": "Liberation Sans", "titleFontSize": 34, "titleFontWeight": "normal",
                "titleColor": "#111111", "titleBaseline": "alphabetic", "titleAlign": "center", "titleX": 514, "titleY": 104}},
            "y": {"field": "abs", "type": "quantitative",
              "scale": {"domain": [0, 1031], "nice": false, "zero": false},
              "axis": {"orient": "left", "domain": false, "ticks": false, "labels": false, "grid": false,
                "title": "Absorbance", "titleFont": "Liberation Sans", "titleFontSize": 35, "titleFontWeight": "normal",
                "titleColor": "#111111", "titleAngle": 270, "titleBaseline": "alphabetic", "titleAlign": "center", "titleX": -29, "titleY": 823}},
            "color": {"field": "series", "type": "nominal", "legend": null,
              "scale": {"domain": ["S450", "S300", "Expanded starch", "A450", "A300", "Expanded alginic acid"],
                "range": ["#c4c4c4", "#7a7a7a", "#000000", "#c4c4c4", "#7a7a7a", "#000000"]}},
            "strokeWidth": {"field": "series", "type": "nominal", "legend": null,
              "scale": {"domain": ["S450", "S300", "Expanded starch", "A450", "A300", "Expanded alginic acid"],
                "range": [2.5, 2.5, 3, 2.5, 2.5, 3]}}
          }
        },
        {
          "data": {"name": "frames"},
          "transform": [{"filter": "datum.panel === 'b'"}],
          "mark": {"type": "rule", "color": "#111111", "strokeWidth": 2},
          "encoding": {
            "x": {"field": "start", "type": "quantitative"},
            "x2": {"field": "end"},
            "y": {"field": "base", "type": "quantitative"}
          }
        },
        {
          "data": {"name": "frames"},
          "transform": [{"filter": "datum.panel === 'b'"}],
          "mark": {"type": "rule", "color": "#333333", "strokeWidth": 1.5},
          "encoding": {
            "x": {"field": "axisWn", "type": "quantitative"},
            "y": {"field": "lowEnd", "type": "quantitative"},
            "y2": {"field": "highEnd"}
          }
        },
        {
          "data": {"name": "frames"},
          "transform": [{"filter": "datum.panel === 'b'"}],
          "mark": {"type": "point", "shape": "M0,-1L0.53,1L-0.53,1Z", "size": 361, "filled": true, "color": "#111111", "opacity": 1},
          "encoding": {
            "x": {"field": "axisWn", "type": "quantitative"},
            "y": {"field": "tip", "type": "quantitative"}
          }
        },
        {
          "data": {"name": "boxes"},
          "transform": [{"filter": "datum.panel === 'b'"}],
          "mark": {"type": "rect", "fillOpacity": 0, "stroke": "#e5141b", "strokeWidth": 3.5, "strokeDash": [11, 5]},
          "encoding": {
            "x": {"field": "from", "type": "quantitative"},
            "x2": {"field": "to"},
            "y": {"field": "low", "type": "quantitative"},
            "y2": {"field": "high"}
          }
        },
        {
          "data": {"name": "boxes"},
          "transform": [{"filter": "datum.panel === 'b'"}],
          "mark": {"type": "text", "font": "Lato", "fontWeight": "bold", "fontSize": 28, "color": "#e5141b", "align": "center", "baseline": "middle"},
          "encoding": {
            "x": {"field": "labelWn", "type": "quantitative"},
            "y": {"field": "labelAbs", "type": "quantitative"},
            "text": {"field": "label"}
          }
        },
        {
          "data": {"name": "names"},
          "transform": [{"filter": "datum.panel === 'b'"}],
          "mark": {"type": "text", "font": "Liberation Sans", "fontSize": 35, "color": "#111111", "align": "left", "baseline": "middle", "lineBreak": "\n", "lineHeight": 43},
          "encoding": {
            "x": {"field": "wn", "type": "quantitative"},
            "y": {"field": "abs", "type": "quantitative"},
            "text": {"field": "name"}
          }
        },
        {
          "data": {"name": "tags"},
          "transform": [{"filter": "datum.panel === 'b'"}],
          "mark": {"type": "text", "font": "Lato", "fontSize": 29, "color": "#111111", "align": "center", "baseline": "middle"},
          "encoding": {
            "x": {"field": "wn", "type": "quantitative"},
            "y": {"field": "abs", "type": "quantitative"},
            "text": {"field": "tag"}
          }
        }
      ]
    }
  ]
}
